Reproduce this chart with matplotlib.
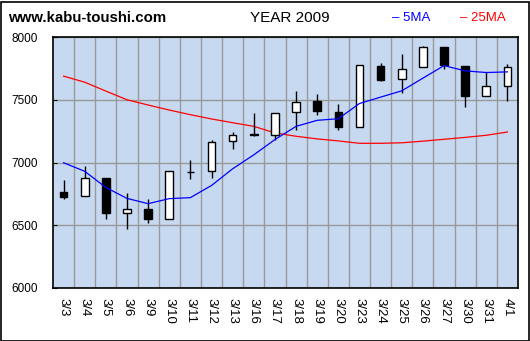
import matplotlib
matplotlib.use("Agg")
import matplotlib.pyplot as plt
from matplotlib.patches import Rectangle

dates = ["3/3", "3/4", "3/5", "3/6", "3/9", "3/10", "3/11", "3/12", "3/13", "3/16", "3/17",
         "3/18", "3/19", "3/20", "3/23", "3/24", "3/25", "3/26", "3/27", "3/30", "3/31", "4/1"]
open_ = [6764, 6736, 6873, 6601, 6627, 6553, 6925, 6934, 7169, 7220, 7222,
         7402, 7492, 7405, 7283, 7770, 7664, 7759, 7921, 7770, 7529, 7609]
close = [6725, 6873, 6598, 6627, 6550, 6929, 6928, 7167, 7222, 7224, 7394,
         7481, 7407, 7280, 7778, 7661, 7743, 7921, 7780, 7526, 7611, 7759]
high = [6857, 6976, 6873, 6754, 6706, 6929, 7016, 7183, 7246, 7397, 7394,
        7571, 7548, 7466, 7778, 7796, 7868, 7931, 7921, 7770, 7722, 7786]
low = [6706, 6736, 6550, 6474, 6518, 6553, 6865, 6873, 7106, 7209, 7183,
       7257, 7378, 7257, 7283, 7651, 7556, 7759, 7743, 7439, 7529, 7487]
ma5 = [6998, 6930, 6801, 6714, 6672, 6712, 6720, 6817, 6950, 7061, 7183,
       7288, 7336, 7349, 7470, 7521, 7571, 7672, 7772, 7730, 7717, 7722]
ma25 = [7688, 7640, 7569, 7500, 7458, 7418, 7381, 7347, 7317, 7288, 7236,
        7209, 7188, 7172, 7153, 7153, 7157, 7170, 7185, 7200, 7217, 7243]
yticks = [6000, 6500, 7000, 7500, 8000]

W, H = 530, 341
fig = plt.figure(figsize=(W / 100, H / 100), dpi=100)
fig.patches.append(Rectangle((0.5 / W, 0.5 / H), (W - 2) / W, (H - 2) / H,
                             transform=fig.transFigure, fill=False,
                             edgecolor="black", lw=1.2))

ax = fig.add_axes([53 / W, (H - 288) / H, 465 / W, 251 / H])
ax.set_facecolor("#c6d9f0")

x = list(range(len(dates)))
ax.vlines(x, low, high, color="black", lw=1, zorder=3)
bottoms = [min(o, c) for o, c in zip(open_, close)]
heights = [abs(c - o) for o, c in zip(open_, close)]
colors = ["white" if c >= o else "black" for o, c in zip(open_, close)]
ax.bar(x, heights, bottom=bottoms, width=0.36, color=colors,
       edgecolor="black", lw=1, zorder=4)

ax.plot(x, ma5, color="blue", lw=0.9, zorder=5)
ax.plot(x, ma25, color="red", lw=0.9, zorder=2)

ax.set_xlim(-0.5, len(dates) - 0.5)
ax.set_ylim(6000, 8000)
ax.set_yticks(yticks)
ax.set_xticks(x)
ax.set_xticklabels(dates, rotation=270, fontsize=9.5, family="Liberation Sans")
ax.set_xticks([i + 0.5 for i in x[:-1]], minor=True)
ax.tick_params(axis="x", which="both", length=0, pad=7)
ax.tick_params(axis="y", direction="in", length=3, labelsize=8.5, pad=11)
for lbl in ax.get_yticklabels():
    lbl.set_family("Liberation Sans")
ax.grid(True, which="minor", axis="x", color="#999999", lw=1)
ax.grid(True, which="major", axis="y", color="#999999", lw=1)
ax.set_axisbelow(True)
for s in ax.spines.values():
    s.set_linewidth(1.2)

fig.text(8 / W, 1 - 18 / H, "www.kabu-toushi.com", fontsize=10.8, fontweight="bold",
         family="Liberation Sans", va="center", ha="left")
fig.text(290 / W, 1 - 18 / H, "YEAR 2009", fontsize=11,
         family="Liberation Sans", va="center", ha="center")
fig.text(392 / W, 1 - 18 / H, "\u2013 5MA", fontsize=9.5, color="blue",
         family="Liberation Sans", va="center", ha="left")
fig.text(460 / W, 1 - 18 / H, "\u2013 25MA", fontsize=9.5, color="red",
         family="Liberation Sans", va="center", ha="left")

fig.savefig("out.png", dpi=100)
